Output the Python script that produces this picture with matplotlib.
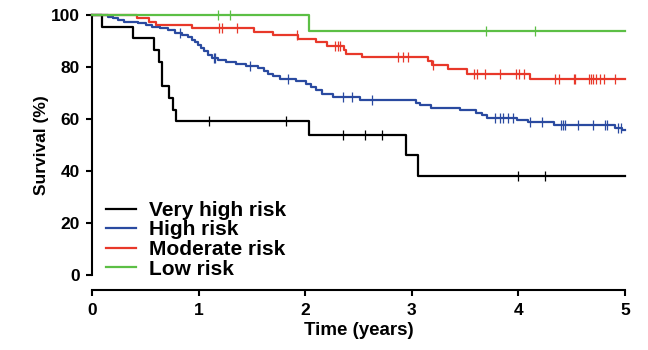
import numpy as np
import matplotlib
matplotlib.use("Agg")
import matplotlib.pyplot as plt

plt.rcParams['font.family'] = ['Liberation Sans', 'DejaVu Sans']
plt.rcParams['font.weight'] = 'bold'

labels = ["Very high risk", "High risk", "Moderate risk", "Low risk"]
colors = ["#000000", "#2a4aa0", "#e8382a", "#5cbf45"]

vh_t = [0.09, 0.38, 0.58, 0.63, 0.66, 0.72, 0.76, 0.79, 2.04, 2.95, 3.06]
vh_s = [95.5, 91.0, 86.4, 81.8, 72.7, 68.2, 63.6, 59.1, 53.7, 46.0, 38.3]
vh_c = [1.10, 1.82, 2.35, 2.56, 2.72, 4.00, 4.25]

hi_t = [0.15, 0.20, 0.24, 0.30, 0.43, 0.51, 0.56, 0.64, 0.71, 0.78, 0.84, 0.90,
        0.94, 0.97, 0.99, 1.02, 1.05, 1.09, 1.13, 1.18, 1.26, 1.35, 1.44, 1.56,
        1.61, 1.65, 1.70, 1.76, 1.91, 2.01, 2.05, 2.10, 2.16, 2.26, 2.51, 3.04,
        3.08, 3.18, 3.45, 3.60, 3.66, 3.71, 3.99, 4.09, 4.33, 4.91, 4.97]
hi_s = [99.3, 98.7, 98.0, 97.4, 96.8, 96.2, 95.5, 94.9, 94.2, 93.2, 92.3, 91.4,
        90.5, 89.6, 88.5, 87.2, 86.0, 84.8, 83.6, 82.6, 81.8, 81.0, 80.3, 79.5,
        78.4, 77.5, 76.4, 75.6, 74.8, 73.5, 72.2, 71.0, 69.8, 68.6, 67.3, 66.2,
        65.3, 64.4, 63.4, 62.4, 61.5, 60.6, 59.6, 58.7, 57.7, 56.5, 55.8]
hi_c = [0.83, 1.14, 1.15, 1.48, 1.84, 2.35, 2.44, 2.63, 3.78, 3.83, 3.86, 3.90,
        3.95, 4.11, 4.22, 4.40, 4.42, 4.44, 4.56, 4.70, 4.81, 4.83, 4.93, 4.96]

mo_t = [0.42, 0.53, 0.60, 0.94, 1.52, 1.70, 1.93, 2.10, 2.20, 2.36, 2.38, 2.53,
        3.15, 3.19, 3.34, 3.52, 4.11]
mo_s = [98.8, 97.5, 96.2, 95.0, 93.6, 92.3, 90.9, 89.6, 88.2, 86.7, 85.2, 83.7,
        82.2, 80.8, 79.2, 77.4, 75.6]
mo_c = [1.19, 1.22, 1.36, 1.92, 2.28, 2.31, 2.33, 2.87, 2.92, 2.96, 3.20, 3.58,
        3.61, 3.69, 3.83, 3.98, 4.01, 4.05, 4.34, 4.38, 4.52, 4.53, 4.66, 4.68,
        4.70, 4.73, 4.77, 4.80, 4.91]

lo_t = [2.04]
lo_s = [93.8]
lo_c = [1.18, 1.29, 3.70, 4.16]

x_ticks = [0, 1, 2, 3, 4, 5]
y_ticks = [0, 20, 40, 60, 80, 100]
t_end = 5.0

series = [(vh_t, vh_s, vh_c), (hi_t, hi_s, hi_c), (mo_t, mo_s, mo_c), (lo_t, lo_s, lo_c)]

fig = plt.figure(figsize=(6.48, 3.5), dpi=100)
ax = fig.add_axes([0.142, 0.214, 0.8225, 0.743])

for (t, s, c), lab, col in zip(series, labels, colors):
    tt = np.concatenate([[0.0], t, [t_end]])
    ss = np.concatenate([[100.0], s, [s[-1]]])
    ax.step(tt, ss, where='post', color=col, lw=1.6, label=lab, clip_on=False, zorder=3)
    idx = np.searchsorted(np.asarray(t), np.asarray(c), side='right')
    cy = np.concatenate([[100.0], s])[idx]
    ax.plot(c, cy, ls='none', marker='|', ms=7, mew=0.9, color=col, clip_on=False, zorder=3)

ax.set_xlim(0, 5)
ax.set_ylim(0, 100)
ax.set_xticks(x_ticks)
ax.set_yticks(y_ticks)
ax.spines['top'].set_visible(False)
ax.spines['right'].set_visible(False)
ax.spines['bottom'].set_position(('outward', 11))
for sp in ['left', 'bottom']:
    ax.spines[sp].set_linewidth(1.5)
ax.spines['left'].set_bounds(0, 100)
ax.spines['bottom'].set_bounds(0, 5)
ax.tick_params(axis='both', width=1.5, length=4.5, labelsize=12.5, pad=4.5)
for lbl in ax.get_xticklabels() + ax.get_yticklabels():
    lbl.set_fontweight('bold')
ax.set_xlabel('Time (years)', fontsize=13.5, fontweight='bold', labelpad=3)
ax.set_ylabel('Survival (%)', fontsize=12.5, fontweight='bold', labelpad=1)

leg = ax.legend(loc='lower left', bbox_to_anchor=(-0.005, -0.078), frameon=False,
                fontsize=15, handlelength=1.45, handletextpad=0.6,
                labelspacing=0.03, borderaxespad=0.4)
for txt in leg.get_texts():
    txt.set_fontweight('bold')

fig.savefig('out.png', dpi=100)
